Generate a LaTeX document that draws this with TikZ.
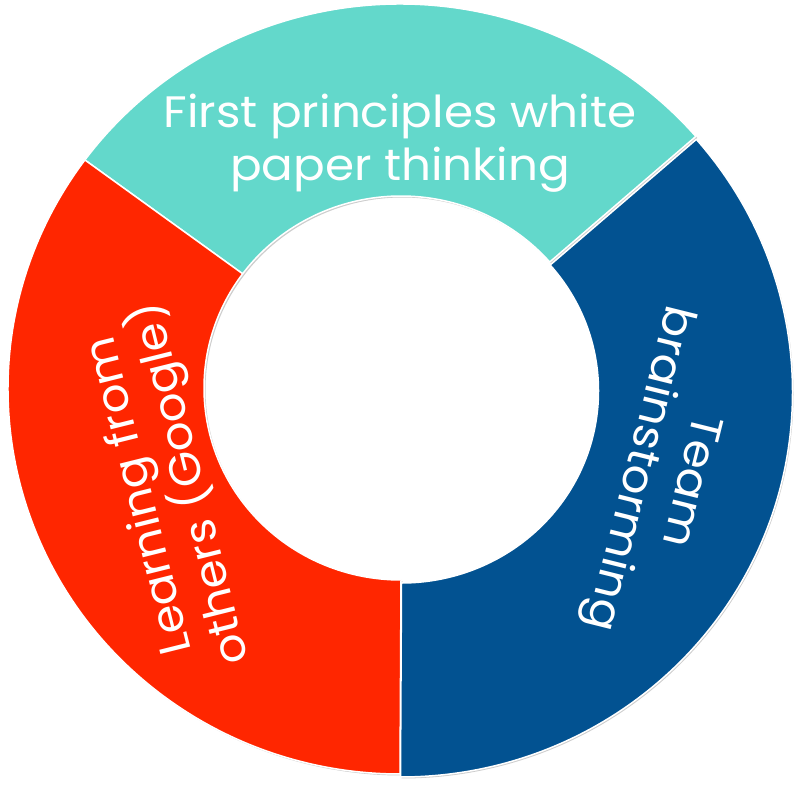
\documentclass[tikz,border=0pt]{standalone}
\usepackage{fontspec}
\setmainfont{Poppins}[FakeStretch=1.065]
\definecolor{segteal}{RGB}{99,216,203}
\definecolor{segred}{RGB}{255,38,0}
\definecolor{segblue}{RGB}{2,82,145}
\definecolor{shadowgray}{RGB}{205,205,205}
\tikzset{
  seglabel/.style={text=white, align=center, inner sep=0pt, font=\fontsize{44}{53}\selectfont},
  segsep/.style={draw=white, line width=1.5pt, line join=round},
}
\newcommand{\donutseg}[4]{% #1 start, #2 end, #3 style, #4 shift
  \path[#3, shift={#4}] (#1:392 and 385) arc[start angle=#1, end angle=#2, x radius=392, y radius=385]
    -- ($(1,1)+(#2:197 and 192)$) arc[start angle=#2, end angle=#1, x radius=197, y radius=192] -- cycle;
}
\usetikzlibrary{calc}
\begin{document}
\begin{tikzpicture}[x=1pt,y=1pt]
\useasboundingbox (0,0) rectangle (800,787);
\coordinate (c) at (400,398);
% shadows
\donutseg{41}{143.5}{fill=shadowgray}{(401.5,396.5)}
\donutseg{143.5}{270}{fill=shadowgray}{(401.5,396.5)}
\donutseg{-90}{41}{fill=shadowgray}{(401.5,393.5)}
% segments
\donutseg{41}{143.5}{fill=segteal, segsep}{(400,398)}
\donutseg{143.5}{270}{fill=segred, segsep}{(400,398)}
\donutseg{-90}{41}{fill=segblue, segsep}{(400.5,395)}
% labels
\node[seglabel] (top) at (400,644) {First principles white\\paper thinking};
\node[seglabel, rotate=104] (left) at (167,298) {Learning from\\others (Google)};
\node[seglabel, rotate=-104] (right) at (662,313) {Team\\brainstorming};
\end{tikzpicture}
\end{document}
